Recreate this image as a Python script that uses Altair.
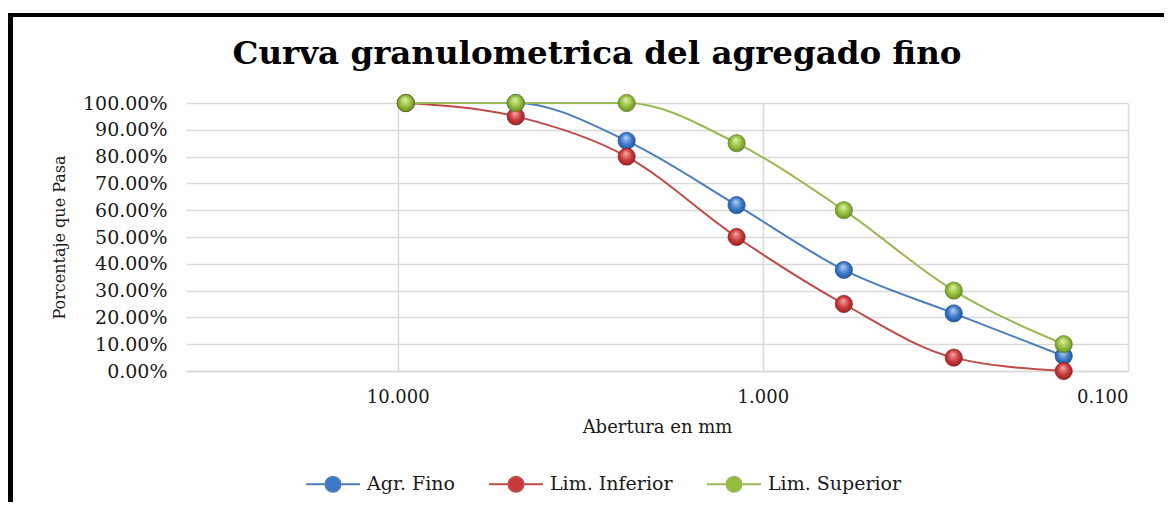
import altair as alt
import pandas as pd

# ---- data ----
aberturas = [9.5, 4.75, 2.36, 1.18, 0.6, 0.3, 0.15]
agr_fino = [100, 100, 85.9, 61.9, 37.7, 21.5, 5.6]
lim_inferior = [100, 95, 80, 50, 25, 5, 0]
lim_superior = [100, 100, 100, 85, 60, 30, 10]
series = ["Agr. Fino", "Lim. Inferior", "Lim. Superior"]
valores = [agr_fino, lim_inferior, lim_superior]
x_ticks = [10, 1, 0.1]
y_ticks = [0, 0.1, 0.2, 0.3, 0.4, 0.5, 0.6, 0.7, 0.8, 0.9, 1.0]

line_colors = ["#4a7ebb", "#be4b48", "#98b954"]
ball_fill = ["#3a78c8", "#c8393b", "#93bd3c"]
ball = [
    ("#b6d4f5", "#3a78c8", "#1d4a88"),
    ("#f5aaa8", "#c8393b", "#86191c"),
    ("#e0f3a8", "#93bd3c", "#5a7b1c"),
]

rows = []
for s, vals in zip(series, valores):
    for i, (a, v) in enumerate(zip(aberturas, vals)):
        rows.append({"serie": s, "abertura": a, "pasa": v / 100.0, "orden": i})
df = pd.DataFrame(rows)

W, H = 942, 268
PAD = {"left": 178, "top": 95, "right": 36, "bottom": 131}
FONT = "DejaVu Serif"

xenc = alt.X(
    "abertura:Q",
    scale=alt.Scale(type="log", domain=[0.1, 38], reverse=True, nice=False),
    axis=alt.Axis(
        values=x_ticks, format=".3f", title="Abertura en mm",
        ticks=False, labelPadding=17, domainColor="#d9d9d9", domainWidth=1.5,
        gridColor="#d9d9d9", gridWidth=1.5, labelFont=FONT, labelFontSize=18,
        labelColor="#1a1a1a", titleFont=FONT, titleFontSize=18,
        titleFontWeight="normal", titleColor="#1a1a1a",
        titleY=61, titleBaseline="alphabetic", labelOverlap=False,
    ),
)
yenc = alt.Y(
    "pasa:Q",
    scale=alt.Scale(domain=[0, 1], nice=False),
    axis=alt.Axis(
        values=y_ticks, tickCount=11, format=".2%", title="Porcentaje que Pasa",
        ticks=False, labelPadding=19, domain=False, labelOverlap=False,
        gridColor="#d9d9d9", gridWidth=1.5, labelFont=FONT, labelFontSize=19,
        labelColor="#1a1a1a", titleFont=FONT, titleFontSize=16,
        titleFontWeight="normal", titleColor="#1a1a1a",
        titleX=-122, titleY=134, titleBaseline="alphabetic",
    ),
)

sym_path = ("M-1,0L-0.28,0M0.28,0L1,0"
            "M-0.28,0A0.28,0.28,0,1,1,0.28,0A0.28,0.28,0,1,1,-0.28,0Z")

leg = dict(
    title=None, orient="none", direction="horizontal",
    legendX=119, legendY=353, padding=0,
    symbolType=sym_path, symbolSize=2916, symbolStrokeWidth=2,
    symbolOpacity=1,
    labelFont=FONT, labelFontSize=19, labelColor="#1a1a1a",
    labelOffset=6, columnPadding=30, labelLimit=300,
)
legend_layer = alt.Chart(df).mark_point(
    filled=True, opacity=0, shape="circle"
).encode(
    x=xenc, y=yenc,
    fill=alt.Fill("serie:N", scale=alt.Scale(domain=series, range=ball_fill),
                  legend=alt.Legend(**leg)),
    stroke=alt.Stroke("serie:N", scale=alt.Scale(domain=series, range=line_colors),
                      legend=alt.Legend(**leg)),
)

lines = alt.Chart(df).mark_line(interpolate="monotone", strokeWidth=2).encode(
    x=xenc,
    y=yenc,
    order="orden:O",
    color=alt.Color(
        "serie:N",
        scale=alt.Scale(domain=series, range=line_colors),
        legend=None,
    ),
)

layers = [legend_layer, lines]
for s, (lt, md, dk) in zip(series, ball):
    grad = {
        "gradient": "radial",
        "x1": 0.45, "y1": 0.3, "r1": 0.0,
        "x2": 0.5, "y2": 0.5, "r2": 0.6,
        "stops": [
            {"offset": 0.0, "color": lt},
            {"offset": 0.55, "color": md},
            {"offset": 1.0, "color": dk},
        ],
    }
    pts = alt.Chart(df).transform_filter(alt.datum.serie == s).mark_point(
        shape="circle", filled=True, size=300, fill=grad, fillOpacity=1,
        stroke=dk, strokeWidth=0.6, opacity=1,
    ).encode(x=xenc, y=yenc)
    layers.append(pts)

title = alt.Chart(pd.DataFrame({"t": ["Curva granulometrica del agregado fino"]})).mark_text(
    font=FONT, fontSize=32.5, fontWeight="bold", color="#000000",
    align="center", baseline="alphabetic",
).encode(text="t:N", x=alt.value(411), y=alt.value(-39))

frame_left = alt.Chart(pd.DataFrame({"a": [0]})).mark_rule(
    color="#000000", strokeWidth=5
).encode(x=alt.value(-175.5), y=alt.value(-90), y2=alt.value(400))
frame_top = alt.Chart(pd.DataFrame({"a": [0]})).mark_rule(
    color="#000000", strokeWidth=4
).encode(x=alt.value(-178), x2=alt.value(990), y=alt.value(-88))

chart = alt.layer(*layers, title, frame_left, frame_top).properties(
    width=W, height=H,
    autosize=alt.AutoSizeParams(type="none"),
    padding=PAD,
    background="white",
).configure_view(stroke=None)

chart.save("out.html", embed_options={"renderer": "svg", "actions": False})
